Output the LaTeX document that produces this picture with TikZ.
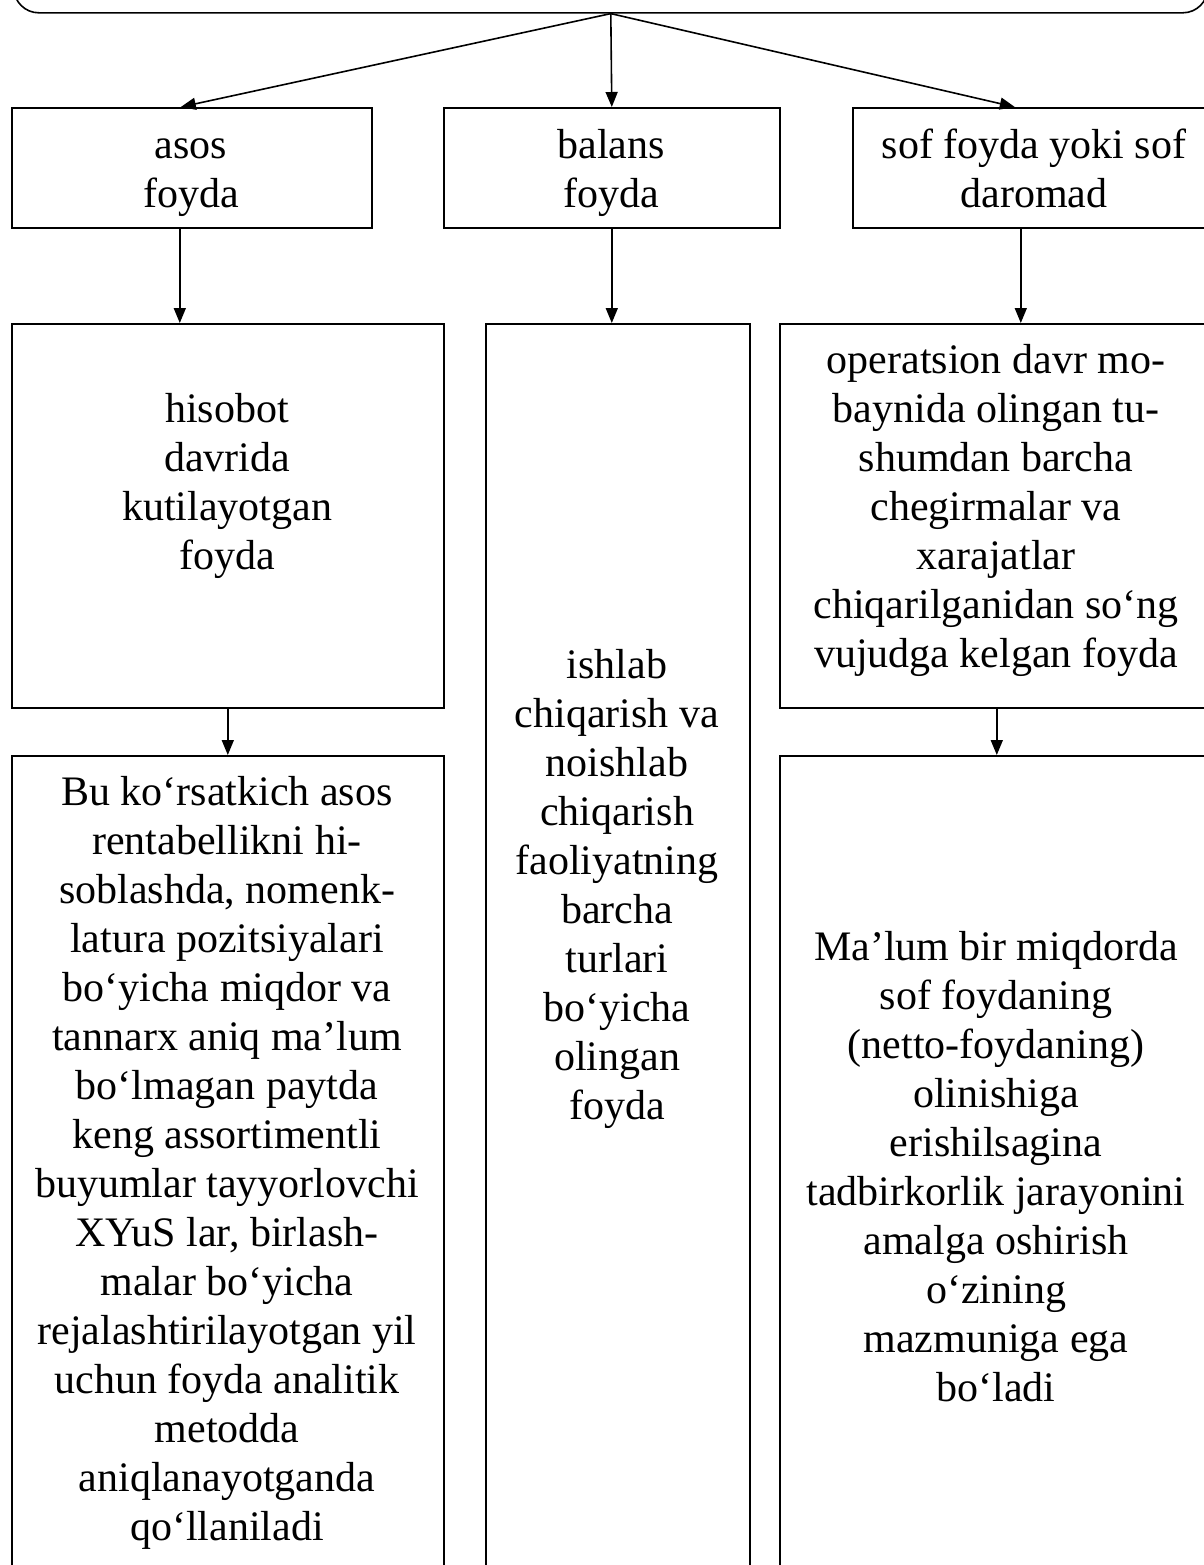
\documentclass[tikz,border=0pt]{standalone}
\usepackage{fontspec}
\setmainfont{Liberation Serif}
\usetikzlibrary{arrows.meta,positioning}

\begin{document}
\begin{tikzpicture}[x=0.5pt, y=-0.5pt,
  box/.style={draw, line width=0.8pt, anchor=north west, inner sep=0pt},
  txt/.style={anchor=north, align=center, inner sep=0pt,
    font=\fontsize{21}{24.5}\selectfont},
  arr/.style={line width=0.8pt, -{Triangle[length=7.5pt,width=6pt]}}]
  \useasboundingbox (0,0) rectangle (1204,1565);
  \clip (0,0) rectangle (1204,1565);
  % top box, cut by the page
  \node[box, rounded corners=12.5pt, minimum width=597pt, minimum height=41pt] (top) at (13,-70) {};
  % first row
  \node[box, minimum width=180pt, minimum height=60pt] (asos) at (11,107) {};
  \node[box, minimum width=168pt, minimum height=60pt] (balans) at (443,107) {};
  \node[box, minimum width=182pt, minimum height=60pt] (sof) at (852,107) {};
  \node[txt] at (191,124) {\strut asos\\foyda};
  \node[txt] at (611,124) {\strut balans\\foyda};
  \node[txt] at (1034,124) {\strut sof foyda yoki sof\\daromad};
  % second row
  \node[box, minimum width=216pt, minimum height=192pt] (hisobot) at (11,323) {};
  \node[box, minimum width=132pt, minimum height=650pt] (ishlab) at (485,323) {};
  \node[box, minimum width=217pt, minimum height=192pt] (operatsion) at (779,323) {};
  \node[txt] at (227,388) {\strut hisobot\\davrida\\kutilayotgan\\foyda};
  \node[txt] at (617,644) {\strut ishlab\\chiqarish va\\noishlab\\chiqarish\\faoliyatning\\barcha\\turlari\\bo‘yicha\\olingan\\foyda};
  \node[txt] at (996,339) {\strut operatsion davr mo-\\baynida olingan tu-\\shumdan barcha\\chegirmalar va\\xarajatlar\\chiqarilganidan so‘ng\\vujudga kelgan foyda};
  % third row
  \node[box, minimum width=216pt, minimum height=450pt] (bu) at (11,755) {};
  \node[box, minimum width=217pt, minimum height=450pt] (malum) at (779,755) {};
  \node[txt] at (227,771) {\strut Bu ko‘rsatkich asos\\rentabellikni hi-\\soblashda, nomenk-\\latura pozitsiyalari\\bo‘yicha miqdor va\\tannarx aniq ma’lum\\bo‘lmagan paytda\\keng assortimentli\\buyumlar tayyorlovchi\\XYuS lar, birlash-\\malar bo‘yicha\\rejalashtirilayotgan yil\\uchun foyda analitik\\metodda\\aniqlanayotganda\\qo‘llaniladi};
  \node[txt] at (996,926) {\strut Ma’lum bir miqdorda\\sof foydaning\\(netto-foydaning)\\olinishiga\\erishilsagina\\tadbirkorlik jarayonini\\amalga oshirish\\o‘zining\\mazmuniga ega\\bo‘ladi};
  % arrows
  \draw[arr] (top.south) -- ([xshift=-5.5pt]asos.north);
  \draw[arr] (top.south) -- (balans.north);
  \draw[arr] (top.south) -- ([xshift=-10pt]sof.north);
  \draw[arr] ([xshift=-6pt]asos.south) coordinate (a1) -- (a1 |- hisobot.north);
  \draw[arr] (balans.south) -- (balans.south |- ishlab.north);
  \draw[arr] ([xshift=-7pt]sof.south) coordinate (s1) -- (s1 |- operatsion.north);
  \draw[arr] (hisobot.south) -- (bu.north);
  \draw[arr] (operatsion.south) -- (malum.north);
\end{tikzpicture}
\end{document}
